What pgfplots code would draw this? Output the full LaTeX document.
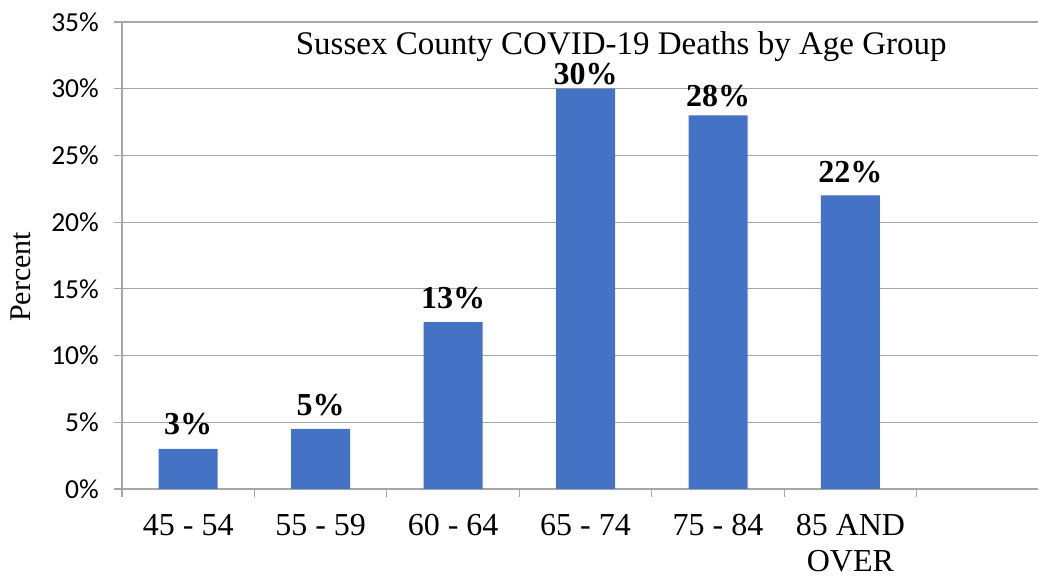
\documentclass[border=0pt]{standalone}
\usepackage{pgfplots}
\pgfplotsset{compat=1.18}
\usepackage{pgfplotstable}
\usepackage{fontspec}
\setmainfont{Liberation Serif}
\newfontfamily\calibri{Carlito}
\definecolor{barblue}{HTML}{4472C4}
\definecolor{gridgray}{HTML}{A6A6A6}
\pgfplotstableread{
x y lab dy
0 3.0 3 14
1 4.5 5 13
2 12.5 13 14
3 30.0 30 4.5
4 28.0 28 9
5 22.0 22 13
}\deaths
\begin{document}
\begin{tikzpicture}[x=1pt,y=1pt]
\useasboundingbox (0,0) rectangle (1038,577);
\begin{axis}[
  at={(122pt,88pt)}, anchor=south west,
  scale only axis, width=916pt, height=467pt,
  xmin=-0.5, xmax=6.416, ymin=0, ymax=35,
  axis x line=bottom, axis y line=left,
  axis line style={draw=gridgray, line width=1.2pt, -},
  ytick={0,5,10,15,20,25,30,35},
  yticklabels={0\%,5\%,10\%,15\%,20\%,25\%,30\%,35\%},
  ymajorgrids, grid style={draw=gridgray, line width=1.2pt},
  tick align=outside, major tick length=8pt,
  tick style={draw=gridgray, line width=1.2pt},
  yticklabel style={font=\calibri\fontsize{27.5}{27.5}\selectfont, inner sep=0pt, xshift=-15pt},
  xtick={-0.5,0.5,1.5,2.5,3.5,4.5,5.5},
  xticklabels={45 - 54,55 - 59,60 - 64,65 - 74,75 - 84,{85 AND\\OVER},{}},
  xticklabel style={xshift=66.2pt, font=\fontsize{32}{36}\selectfont, align=center, inner sep=0pt, yshift=-17pt},
  ylabel={Percent},
  ylabel style={font=\fontsize{30}{30}\selectfont, at={(axis description cs:-0.110,0.454)}, anchor=center, rotate=0},
  title={Sussex County COVID-19 Deaths by Age Group},
  title style={font=\fontsize{33}{33}\selectfont, at={(axis description cs:0.545,0.918)}, anchor=base, inner sep=0pt},
  clip=false,
]
\addplot[ybar, bar width=59pt, fill=barblue, draw=none,
  point meta=explicit symbolic,
  visualization depends on={\thisrow{dy}\as\dy},
  nodes near coords={\pgfplotspointmeta\%},
  nodes near coords style={font=\bfseries\fontsize{32}{32}\selectfont, anchor=base, inner sep=0pt, yshift=\dy},
] table[x=x, y=y, meta=lab] {\deaths};
\end{axis}
\end{tikzpicture}
\end{document}
